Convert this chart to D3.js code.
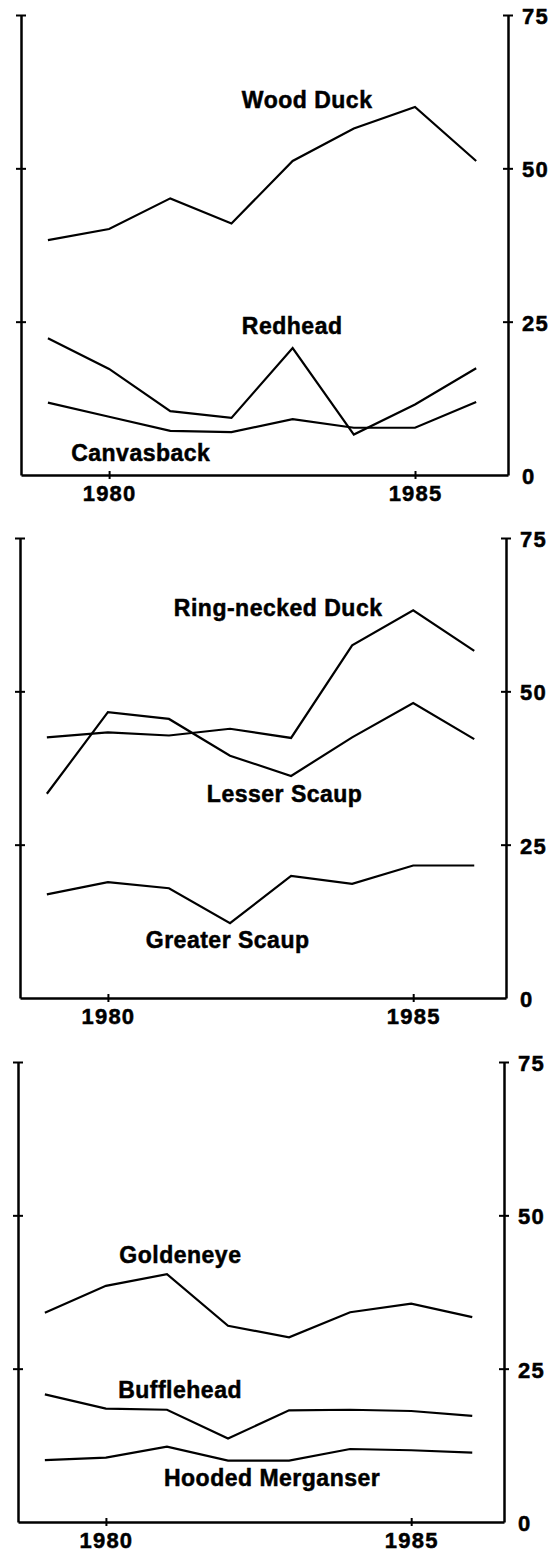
<!DOCTYPE html>
<html>
<head>
<meta charset="utf-8">
<script src="https://cdn.jsdelivr.net/npm/d3@7"></script>
<style>
  html, body { margin: 0; padding: 0; background: #fff; }
  svg { display: block; }
  text { font-family: "Liberation Sans", Arial, Helvetica, sans-serif; font-weight: bold; fill: #000; }
</style>
</head>
<body>
<svg id="chart" width="556" height="1558"></svg>
<script>
// ---- data ----
const years = [1979, 1980, 1981, 1982, 1983, 1984, 1985, 1986];
const xTickYears = [1980, 1985];
const yTickValues = [0, 25, 50, 75];
const yTickLabels = ["0", "25", "50", "75"];

// panel 1
const woodDuck   = [38.3, 40.1, 45.1, 41.0, 51.2, 56.5, 60.0, 51.2];
const redhead    = [22.3, 17.3, 10.4, 9.3, 20.7, 6.6, 11.5, 17.4];
const canvasback = [11.8, 9.5, 7.2, 7.0, 9.1, 7.7, 7.7, 11.9];
// panel 2
const ringNeckedDuck = [42.5, 43.3, 42.8, 43.9, 42.4, 57.5, 63.2, 56.6];
const lesserScaup    = [33.3, 46.6, 45.5, 39.5, 36.2, 42.5, 48.1, 42.2];
const greaterScaup   = [16.9, 18.9, 17.9, 12.2, 19.9, 18.6, 21.6, 21.6];
// panel 3
const goldeneye       = [34.1, 38.5, 40.4, 32.0, 30.1, 34.2, 35.6, 33.4];
const bufflehead      = [20.8, 18.5, 18.3, 13.6, 18.2, 18.3, 18.1, 17.3];
const hoodedMerganser = [10.1, 10.5, 12.3, 10.0, 10.0, 11.9, 11.7, 11.3];

// label anchors (data coordinates: year, value of text baseline start)
const panel1Labels = [
  {name: "Wood Duck",  year: 1982.17, value: 59.8},
  {name: "Redhead",    year: 1982.17, value: 23.0},
  {name: "Canvasback", year: 1979.38, value: 2.3}
];
const panel2Labels = [
  {name: "Ring-necked Duck", year: 1981.08, value: 62.3},
  {name: "Lesser Scaup",     year: 1981.62, value: 32.0},
  {name: "Greater Scaup",    year: 1980.62, value: 8.15}
];
const panel3Labels = [
  {name: "Goldeneye",        year: 1980.22, value: 42.2},
  {name: "Bufflehead",       year: 1980.20, value: 20.2},
  {name: "Hooded Merganser", year: 1980.95, value: 5.9}
];

// ---- layout ----
const xDomain = [1978.56, 1986.52];
const yDomain = [0, 75];
const panels = [
  {series: [woodDuck, redhead, canvasback], labels: panel1Labels, left: 21, right: 508, top: 15, bottom: 475},
  {series: [ringNeckedDuck, lesserScaup, greaterScaup], labels: panel2Labels, left: 20, right: 506, top: 538, bottom: 998},
  {series: [goldeneye, bufflehead, hoodedMerganser], labels: panel3Labels, left: 18, right: 504, top: 1062, bottom: 1522}
];

const svg = d3.select("#chart");

function styleTickText(sel) {
  sel.attr("font-size", 22).attr("letter-spacing", "1.2px")
    .attr("font-family", "Liberation Sans, Arial, sans-serif").attr("font-weight", "bold")
    .attr("fill", "#000").attr("stroke", "#000").attr("stroke-width", 0.5);
}

panels.forEach(p => {
  const x = d3.scaleLinear().domain(xDomain).range([p.left, p.right]);
  const y = d3.scaleLinear().domain(yDomain).range([p.bottom, p.top]);
  const g = svg.append("g");

  // left axis (no labels, crossing ticks)
  const leftAx = g.append("g").attr("transform", `translate(${p.left},0)`)
    .call(d3.axisLeft(y).tickValues(yTickValues).tickSizeOuter(0).tickFormat(""));
  leftAx.select(".domain").attr("stroke", "#000").attr("stroke-width", 2.5);
  leftAx.selectAll(".tick line").attr("x1", -5).attr("x2", 5).attr("stroke", "#000").attr("stroke-width", 2)
    .filter(d => d === 0).remove();

  // right axis with labels
  const rightAx = g.append("g").attr("transform", `translate(${p.right},0)`)
    .call(d3.axisRight(y).tickValues(yTickValues).tickSizeOuter(0)
      .tickFormat((d, i) => yTickLabels[i]));
  rightAx.select(".domain").attr("stroke", "#000").attr("stroke-width", 2.5);
  rightAx.selectAll(".tick line").attr("x1", -5).attr("x2", 5).attr("stroke", "#000").attr("stroke-width", 2)
    .filter(d => d === 0).remove();
  rightAx.selectAll(".tick text")
    .attr("x", 14).attr("dy", "0.38em")
    .attr("text-anchor", "start")
    .call(styleTickText);

  // bottom axis
  const bottomAx = g.append("g").attr("transform", `translate(0,${p.bottom})`)
    .call(d3.axisBottom(x).tickValues(xTickYears).tickSizeOuter(0).tickFormat(d3.format("d")));
  bottomAx.select(".domain").attr("stroke", "#000").attr("stroke-width", 2.5);
  bottomAx.selectAll(".tick line").attr("y1", -4).attr("y2", 4).attr("stroke", "#000").attr("stroke-width", 2);
  bottomAx.selectAll(".tick text")
    .attr("y", 26).attr("dy", 0)
    .call(styleTickText);

  // lines
  const line = d3.line().x((d, i) => x(years[i])).y(d => y(d));
  p.series.forEach(s => {
    g.append("path").datum(s)
      .attr("d", line)
      .attr("fill", "none")
      .attr("stroke", "#000")
      .attr("stroke-width", 2.2)
      .attr("stroke-linejoin", "miter");
  });

  // series labels
  g.selectAll(".lbl").data(p.labels).enter().append("text")
    .attr("class", "lbl")
    .attr("x", d => x(d.year))
    .attr("y", d => y(d.value))
    .attr("font-size", 23)
    .attr("letter-spacing", "0.5px")
    .attr("stroke", "#000")
    .attr("stroke-width", 0.5)
    .text(d => d.name);
});
</script>
</body>
</html>
